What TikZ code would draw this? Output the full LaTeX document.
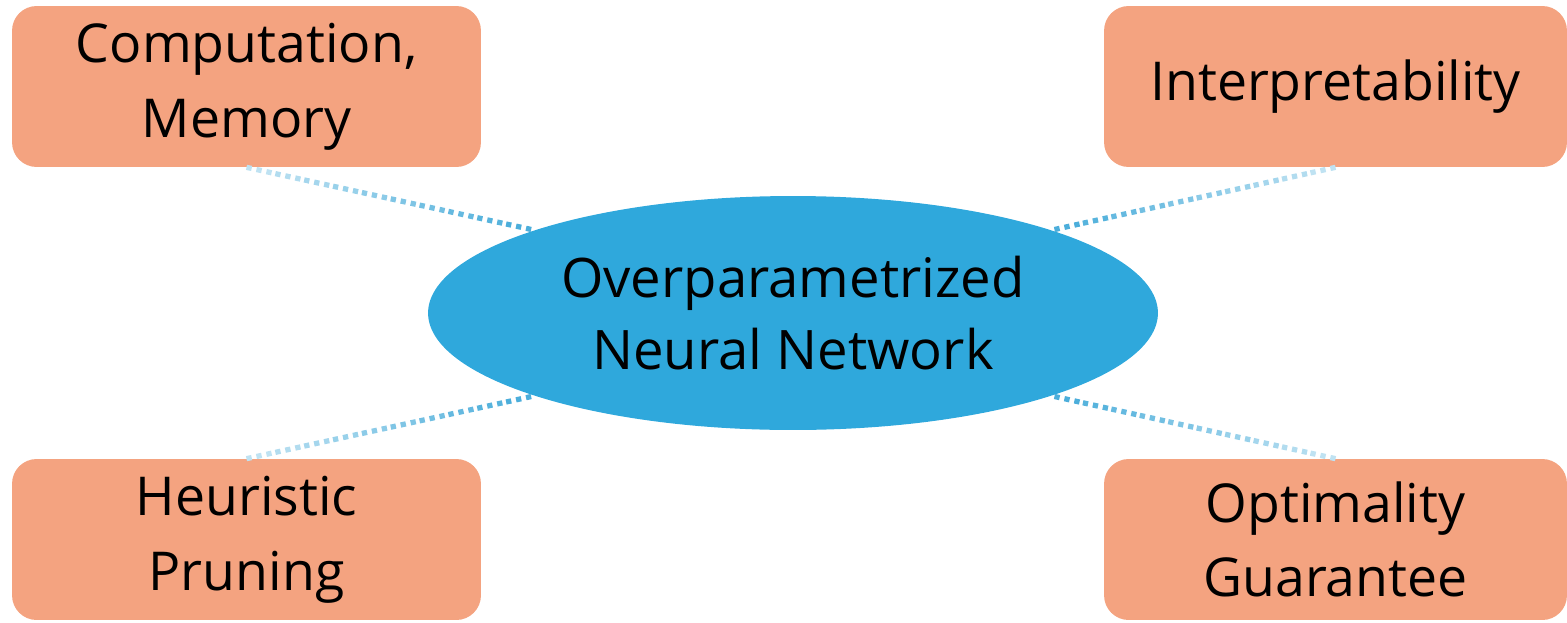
\documentclass[tikz,border=0pt]{standalone}
\usepackage{fontspec}
\setmainfont{Open Sans}
\usepackage{xcolor}
\usepackage{tikz}
\usetikzlibrary{shapes.geometric, calc}
\definecolor{boxfill}{RGB}{244,163,128}
\definecolor{ellfill}{RGB}{47,168,220}
\definecolor{darkdot}{RGB}{72,172,218}
\tikzset{
  topic/.style={draw=none, fill=boxfill, rounded corners=14pt, minimum width=9.3cm,
    minimum height=3.22cm, align=center, font=\fontsize{30.5}{42.5}\selectfont},
  dotline/.style={line width=3pt, dash pattern=on 3pt off 2.8pt}
}
\newcommand{\dotlink}[2]{%
  \foreach \k in {0,...,9} {
    \pgfmathtruncatemacro{\p}{35+\k*7}
    \draw[dotline, darkdot!\p!white] ($(#1)!\k/10!(#2)$) -- ($(#1)!\k/10+1/10!(#2)$);
  }%
}

\begin{document}
\begin{tikzpicture}[x=0.02cm, y=-0.02cm]
  \useasboundingbox (0,0) rectangle (1567,622);
  \node[topic, minimum width=9.38cm] (comp) at (246.5,86.5) {Computation,\\Memory};
  \node[topic, minimum width=9.26cm] (interp) at (1335.5,86.5) {Interpretability};
  \node[topic, minimum width=9.38cm] (heur) at (246.5,539.5) {Heuristic\\Pruning};
  \node[topic, minimum width=9.26cm] (optim) at (1335.5,539.5) {Optimality\\Guarantee};
  \node[ellipse, fill=ellfill, minimum width=14.6cm, minimum height=4.68cm, inner sep=0pt,
    align=center, font=\fontsize{31}{41}\selectfont] (net) at (793,313)
    {Overparametrized\\Neural Network};
  % points on the ellipse rim
  \coordinate (net-nw) at ($(net.center)+(135:7.3cm and 2.34cm)$);
  \coordinate (net-ne) at ($(net.center)+(45:7.3cm and 2.34cm)$);
  \coordinate (net-sw) at ($(net.center)+(225:7.3cm and 2.34cm)$);
  \coordinate (net-se) at ($(net.center)+(315:7.3cm and 2.34cm)$);
  \dotlink{comp.south}{net-nw}
  \dotlink{interp.south}{net-ne}
  \dotlink{heur.north}{net-sw}
  \dotlink{optim.north}{net-se}
\end{tikzpicture}
\end{document}
